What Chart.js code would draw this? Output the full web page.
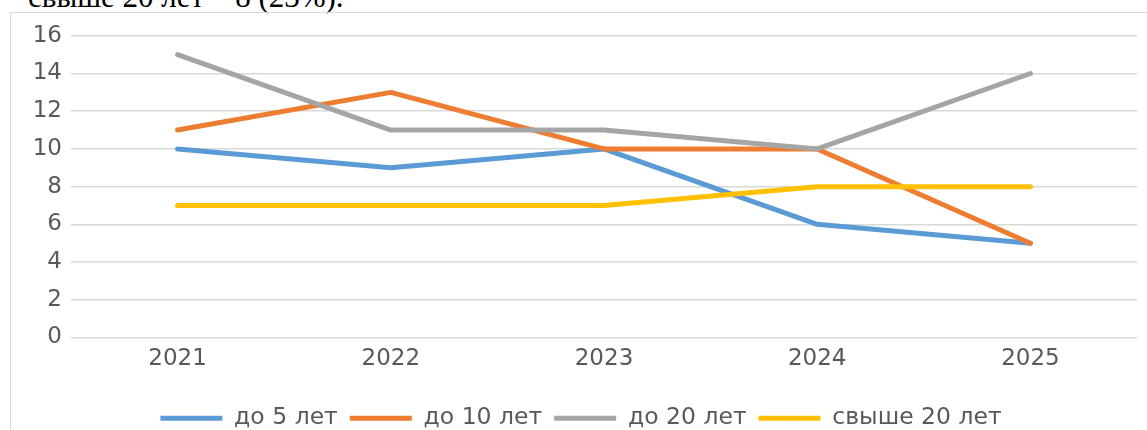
<!DOCTYPE html>
<html>
<head>
<meta charset="utf-8">
<script src="https://cdn.jsdelivr.net/npm/chart.js@4"></script>
<style>
  html, body { margin: 0; padding: 0; background: #fff; width: 1147px; height: 430px; overflow: hidden; position: relative; }
  #caption {
    position: absolute; left: 28px; top: -19px; white-space: nowrap;
    font-family: "Liberation Serif", serif; font-size: 31px; line-height: 31px; color: #000;
  }
  #box {
    position: absolute; left: 10px; top: 12px; width: 1160px; height: 430px;
    border: 1px solid #d9d9d9;
  }
</style>
</head>
<body>
<div id="caption">свыше 20 лет – 8 (23%).</div>
<div id="box"><canvas id="c" width="1160" height="430"></canvas></div>
<script>
  // data
  var YEARS = ['2021', '2022', '2023', '2024', '2025'];
  var LABELS = ['до 5 лет', 'до 10 лет', 'до 20 лет', 'свыше 20 лет'];
  var UP_TO_5 = [10, 9, 10, 6, 5];
  var UP_TO_10 = [11, 13, 10, 10, 5];
  var UP_TO_20 = [15, 11, 11, 10, 14];
  var OVER_20 = [7, 7, 7, 8, 8];
  var COLORS = ['#5b9bd5', '#ed7d31', '#a5a5a5', '#ffc000'];

  var TEXT = '#595959';
  var FONT = 'DejaVu Sans';

  function line(i, data) {
    return {
      label: LABELS[i], data: data,
      borderColor: COLORS[i], backgroundColor: COLORS[i],
      borderWidth: 5, borderCapStyle: 'round', borderJoinStyle: 'round',
      pointRadius: 0, pointHoverRadius: 0, tension: 0, fill: false,
      order: 3 - i // later series drawn on top, like the original
    };
  }

  new Chart(document.getElementById('c'), {
    type: 'line',
    data: {
      labels: YEARS,
      datasets: [line(0, UP_TO_5), line(1, UP_TO_10), line(2, UP_TO_20), line(3, OVER_20)]
    },
    options: {
      responsive: false,
      animation: false,
      layout: { padding: { left: 14, top: 19, right: 34, bottom: 3 } },
      plugins: {
        tooltip: { enabled: false },
        legend: {
          position: 'bottom',
          labels: {
            usePointStyle: true, pointStyle: 'line', pointStyleWidth: 62, boxHeight: 5,
            padding: 12, color: TEXT, font: { family: FONT, size: 23.5 },
            sort: function (a, b) { return a.datasetIndex - b.datasetIndex; }
          }
        }
      },
      scales: {
        x: {
          offset: true,
          grid: { display: false, drawTicks: false },
          border: { display: false },
          ticks: { color: TEXT, font: { family: FONT, size: 23 }, padding: 8, maxRotation: 0 },
          afterFit: function (s) { s.height = 57; }
        },
        y: {
          min: 0, max: 16,
          grid: { color: '#d9d9d9', lineWidth: 1.5, drawTicks: false },
          border: { display: false },
          ticks: { stepSize: 2, color: TEXT, font: { family: FONT, size: 23 }, padding: 9 },
          afterFit: function (s) { s.width = 46; }
        }
      }
    }
  });
</script>
</body>
</html>
